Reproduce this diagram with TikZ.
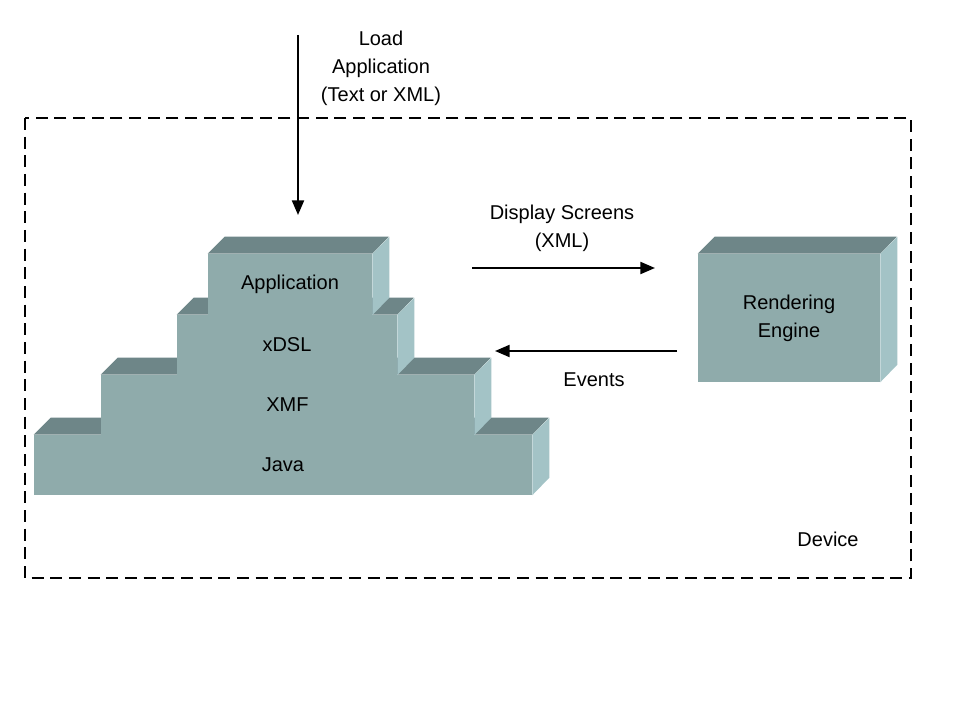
\documentclass[tikz,border=0pt]{standalone}
\usepackage{fontspec}
\setmainfont{Liberation Sans}
\usetikzlibrary{arrows.meta}
\definecolor{fr}{HTML}{8FABAB}
\definecolor{tp}{HTML}{6E8688}
\definecolor{sd}{HTML}{A3C3C6}
\begin{document}
\begin{tikzpicture}[x=0.75pt,y=-0.75pt,
  lbl/.style={font=\fontsize{15}{21}\selectfont,align=center},
  face/.style={fill=fr,draw=none,inner sep=0,font=\fontsize{15}{21}\selectfont,align=center},
  arr/.style={line width=1.6pt,-{Triangle[length=11pt,width=9pt]}}]
\useasboundingbox (0,0) rectangle (960,720);
\fill[white] (0,0) rectangle (960,720);
\def\blk#1#2#3#4#5#6{% name x1 y1 x2 y2 text
  \node[face,minimum width={(#4-#2)*0.75pt},minimum height={(#5-#3)*0.75pt}] (#1) at ({(#2+#4)/2},{(#3+#5)/2}) {#6};
  \fill[tp] (#1.north west) -- ++(17,-17) -- ++({#4-#2},0) -- (#1.north east) -- cycle;
  \fill[sd] (#1.north east) -- ++(17,-17) -- ++(0,{#5-#3}) -- (#1.south east) -- cycle;}
\blk{java}{34}{435}{532}{495}{Java}
\blk{xmf}{101}{375}{474}{435}{XMF}
\blk{xdsl}{177}{315}{397}{375}{xDSL}
\blk{app}{208}{254}{372}{315}{Application}
\blk{ren}{698}{254}{880}{382}{Rendering\\Engine}
\draw[dashed,line width=1.6pt,dash pattern=on 9pt off 5pt] (25,118) rectangle (911,578);
\coordinate (ls) at (298,35);
\coordinate (le) at (298,215);
\draw[arr] (ls) -- (le);
\node[lbl] (load) at (381,68) {Load\\Application\\(Text or XML)};
\coordinate (ds) at (472,268);
\coordinate (de) at (655,268);
\draw[arr] (ds) -- (de);
\node[lbl] (disp) at (562,228) {Display Screens\\(XML)};
\coordinate (es) at (677,351);
\coordinate (ee) at (495,351);
\draw[arr] (es) -- (ee);
\node[lbl] (ev) at (594,380) {Events};
\node[lbl] (dev) at (828,539) {Device};
\end{tikzpicture}
\end{document}
